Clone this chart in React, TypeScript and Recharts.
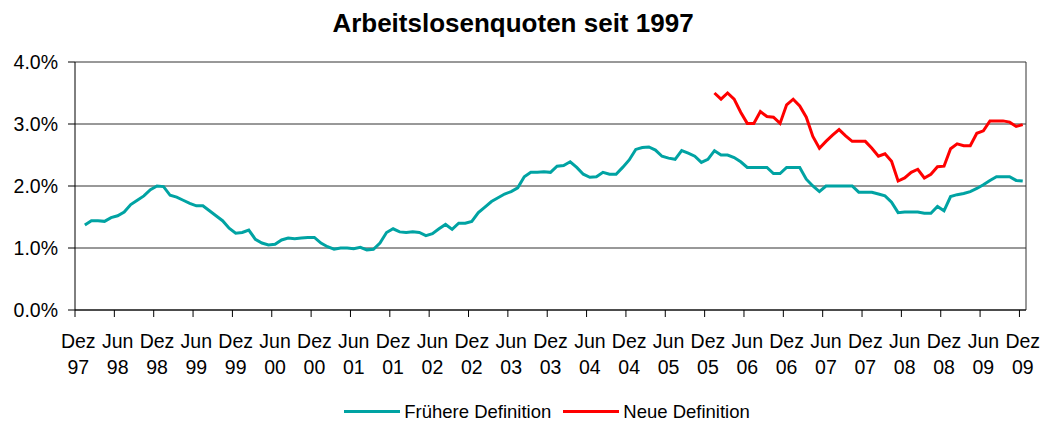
import { CartesianGrid, Legend, Line, LineChart, ReferenceLine, XAxis, YAxis } from 'recharts'

// Monatswerte in %, Jan 98 .. Dez 09 (frühere Definition)
const frueher = [
  1.37, 1.44, 1.44, 1.43, 1.49, 1.52, 1.58, 1.70, 1.77, 1.84, 1.94, 2.00,
  1.99, 1.85, 1.82, 1.77, 1.72, 1.68, 1.68, 1.60, 1.52, 1.44, 1.32, 1.24,
  1.25, 1.29, 1.14, 1.08, 1.05, 1.06, 1.13, 1.16, 1.15, 1.16, 1.17, 1.17,
  1.08, 1.02, 0.98, 1.00, 1.00, 0.99, 1.01, 0.97, 0.98, 1.08, 1.25, 1.31,
  1.26, 1.25, 1.26, 1.25, 1.20, 1.23, 1.31, 1.38, 1.30, 1.40, 1.40, 1.43,
  1.57, 1.66, 1.75, 1.81, 1.87, 1.91, 1.97, 2.15, 2.22, 2.22, 2.23, 2.22,
  2.32, 2.33, 2.39, 2.30, 2.19, 2.14, 2.15, 2.22, 2.19, 2.19, 2.30, 2.42,
  2.59, 2.62, 2.63, 2.58, 2.48, 2.45, 2.43, 2.57, 2.53, 2.48, 2.38, 2.43,
  2.57, 2.50, 2.50, 2.46, 2.39, 2.30, 2.30, 2.30, 2.30, 2.20, 2.20, 2.30,
  2.30, 2.30, 2.11, 2.00, 1.91, 2.00, 2.00, 2.00, 2.00, 2.00, 1.90, 1.90,
  1.90, 1.87, 1.84, 1.74, 1.57, 1.58, 1.58, 1.58, 1.56, 1.56, 1.67, 1.60,
  1.83, 1.86, 1.88, 1.91, 1.96, 2.02, 2.09, 2.15, 2.15, 2.15, 2.09, 2.08,
]

// Jan 06 .. Dez 09 (neue Definition)
const neue = [
  3.50, 3.40, 3.50, 3.40, 3.19, 3.01, 3.01, 3.20, 3.12, 3.11, 3.01, 3.31,
  3.40, 3.29, 3.11, 2.80, 2.61, 2.72, 2.82, 2.91, 2.81, 2.72, 2.72, 2.72,
  2.61, 2.48, 2.52, 2.40, 2.08, 2.13, 2.22, 2.27, 2.13, 2.19, 2.31, 2.32,
  2.60, 2.68, 2.65, 2.65, 2.85, 2.89, 3.05, 3.05, 3.05, 3.03, 2.96, 2.99,
]

const tickLabels = [
  'Dez 97', 'Jun 98', 'Dez 98', 'Jun 99', 'Dez 99', 'Jun 00', 'Dez 00',
  'Jun 01', 'Dez 01', 'Jun 02', 'Dez 02', 'Jun 03', 'Dez 03', 'Jun 04',
  'Dez 04', 'Jun 05', 'Dez 05', 'Jun 06', 'Dez 06', 'Jun 07', 'Dez 07',
  'Jun 08', 'Dez 08', 'Jun 09', 'Dez 09',
]
const yTicks = [0, 1, 2, 3, 4]

const monthCount = 145 // Dez 97 .. Dez 09
const frueherStart = 1 // Jan 98
const neueStart = 97 // Jan 06

const data = Array.from({ length: monthCount }, (_, i) => ({
  x: i + 0.5,
  frueher: i >= frueherStart ? frueher[i - frueherStart] : null,
  neu: i >= neueStart ? neue[i - neueStart] : null,
}))

const FONT = '"Liberation Sans", Arial, sans-serif'
const TEAL = '#00A3A3'
const RED = '#FF0000'
const W = 1043
const H = 421
const margin = { top: 62, right: 17, left: 15, bottom: 0 }
const halfMonth = (W - margin.left - 60 - margin.right) / monthCount / 2

function MonthTick({ x, y, payload }: any) {
  const [m, yr] = tickLabels[Math.round(payload.value / 6)].split(' ')
  return (
    <g transform={`translate(${x + halfMonth},${y})`}>
      <text textAnchor="middle" fontFamily={FONT} fontSize={19.5} fill="#000">
        <tspan x={0} y={28.5}>{m}</tspan>
        <tspan x={0} y={55}>{yr}</tspan>
      </text>
    </g>
  )
}

function LegendBox() {
  const items = [
    { label: 'Frühere Definition', color: TEAL },
    { label: 'Neue Definition', color: RED },
  ]
  return (
    <div
      style={{
        display: 'flex',
        justifyContent: 'center',
        alignItems: 'center',
        height: 23,
        paddingTop: 4,
        paddingLeft: 53,
        boxSizing: 'border-box',
        fontFamily: FONT,
        fontSize: 18.5,
        lineHeight: '23px',
        color: '#000',
      }}
    >
      {items.map((it, i) => (
        <div key={i} style={{ display: 'flex', alignItems: 'center', marginLeft: i ? 12 : 0 }}>
          <span style={{ display: 'inline-block', width: 56, height: 3, background: it.color, marginRight: 4 }} />
          <span>{it.label}</span>
        </div>
      ))}
    </div>
  )
}

export default function App() {
  return (
    <div style={{ position: 'absolute', left: 0, top: 0, width: W, height: H, background: '#fff' }}>
      <div
        style={{
          position: 'absolute',
          top: 10,
          left: 0,
          width: 1026,
          textAlign: 'center',
          fontFamily: FONT,
          fontWeight: 'bold',
          fontSize: 26,
          lineHeight: '26px',
          color: '#000',
        }}
      >
        Arbeitslosenquoten seit 1997
      </div>
      <LineChart width={W} height={H} data={data} margin={margin}>
        <CartesianGrid horizontal vertical={false} stroke="#333" strokeDasharray="" />
        <XAxis
          type="number"
          dataKey="x"
          domain={[0, monthCount]}
          ticks={tickLabels.map((_, i) => i * 6)}
          interval={0}
          height={88}
          tick={<MonthTick />}
          tickSize={7}
          axisLine={{ stroke: '#000' }}
          tickLine={{ stroke: '#000' }}
        />
        <YAxis
          type="number"
          domain={[0, 4]}
          ticks={yTicks}
          width={60}
          tickSize={7}
          tickMargin={10}
          tickFormatter={(v: number) => `${v.toFixed(1)}%`}
          tick={{ fontFamily: FONT, fontSize: 19.5, fill: '#000' }}
          axisLine={{ stroke: '#000' }}
          tickLine={{ stroke: '#000' }}
        />
        <ReferenceLine x={monthCount} stroke="#333" />
        <Legend verticalAlign="bottom" content={<LegendBox />} />
        <Line
          type="linear"
          dataKey="frueher"
          name="Frühere Definition"
          stroke={TEAL}
          strokeWidth={3}
          dot={false}
          isAnimationActive={false}
        />
        <Line
          type="linear"
          dataKey="neu"
          name="Neue Definition"
          stroke={RED}
          strokeWidth={3}
          dot={false}
          isAnimationActive={false}
        />
      </LineChart>
    </div>
  )
}
